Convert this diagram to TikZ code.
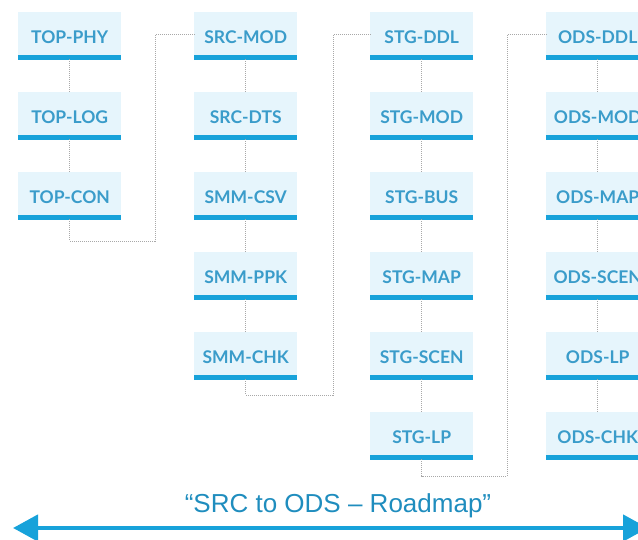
\documentclass[tikz,border=0pt]{standalone}
\usepackage{fontspec}
\setmainfont{Liberation Sans}
\newfontfamily\boxfont{Lato}
\usetikzlibrary{arrows.meta}
\definecolor{boxfill}{HTML}{E6F5FC}
\definecolor{barblue}{HTML}{17A2DA}
\definecolor{boxtext}{HTML}{3A9CCA}
\definecolor{captxt}{HTML}{1F8DBE}
\definecolor{dotgray}{HTML}{A8A8A8}
\tikzset{
  stepbox/.style={rectangle, fill=boxfill, minimum width=103pt, minimum height=43pt,
    inner sep=0pt, text height=19pt, text depth=0pt, anchor=north west,
    font=\boxfont\bfseries\fontsize{17.5}{17.5}\selectfont, text=boxtext},
  bar/.style={draw=barblue, line width=4.3pt},
  conn/.style={draw=dotgray, line width=0.7pt, dash pattern=on 1pt off 1pt},
  roadarrow/.style={draw=barblue, line width=4.5pt,
    {Triangle[length=25pt,width=26pt]}-{Triangle[length=25pt,width=26pt]}}
}
\begin{document}
\begin{tikzpicture}[x=1pt,y=-1pt]
\useasboundingbox (0,0) rectangle (638,540);
\clip (0,0) rectangle (638,540);
% columns
\foreach \name/\lab/\x/\y in {
  tphy/TOP-PHY/18/12, tlog/TOP-LOG/18/92, tcon/TOP-CON/18/172,
  smod/SRC-MOD/194/12, sdts/SRC-DTS/194/92, mcsv/SMM-CSV/194/172, mppk/SMM-PPK/194/252, mchk/SMM-CHK/194/332,
  gddl/STG-DDL/370/12, gmod/STG-MOD/370/92, gbus/STG-BUS/370/172, gmap/STG-MAP/370/252, gscn/STG-SCEN/370/332, glp/STG-LP/370/412,
  oddl/ODS-DDL/546/12, omod/ODS-MOD/546/92, omap/ODS-MAP/546/172, oscn/ODS-SCEN/546/252, olp/ODS-LP/546/332, ochk/ODS-CHK/546/412}{
  \node[stepbox] (\name) at (\x,\y) {\lab};
  \draw[bar] ([yshift=-2pt]\name.south west) -- ([yshift=-2pt]\name.south east);
}
% vertical links within columns
\foreach \a/\b in {tphy/tlog, tlog/tcon,
  smod/sdts, sdts/mcsv, mcsv/mppk, mppk/mchk,
  gddl/gmod, gmod/gbus, gbus/gmap, gmap/gscn, gscn/glp,
  oddl/omod, omod/omap, omap/oscn, oscn/olp, olp/ochk}{
  \draw[conn] ([yshift=-4pt]\a.south) -- (\b.north);
}
% snake links between columns
\coordinate (k1) at (155,241);
\coordinate (k2) at (333,395);
\coordinate (k3) at (507,476);
\draw[conn] ([yshift=-4pt]tcon.south) |- (k1) |- ([yshift=-1pt]smod.west);
\draw[conn] ([yshift=-4pt]mchk.south) |- (k2) |- ([yshift=-1pt]gddl.west);
\draw[conn] ([yshift=-4pt]glp.south) |- (k3) |- ([yshift=-1pt]oddl.west);
% roadmap arrow
\coordinate (aL) at (13,528);
\coordinate (aR) at (648,528);
\draw[roadarrow] (aL) -- (aR);
\node[text=captxt, font=\fontsize{26}{26}\selectfont, inner sep=0pt] (cap) at (338,506) {“SRC to ODS – Roadmap”};
\end{tikzpicture}
\end{document}
